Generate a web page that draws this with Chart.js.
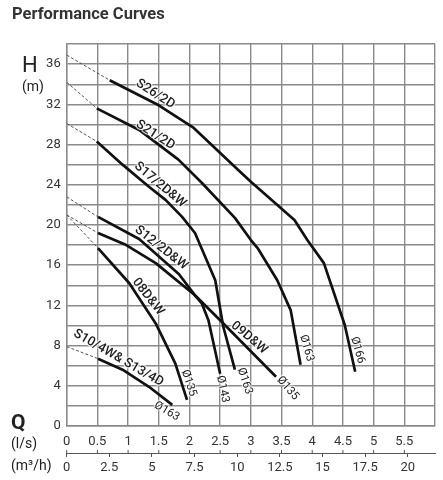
<!DOCTYPE html>
<html>
<head>
<meta charset="utf-8">
<script src="https://cdn.jsdelivr.net/npm/chart.js@4.4.1/dist/chart.umd.min.js"></script>
<style>
  html, body { margin: 0; padding: 0; background: #fff; }
  #wrap { position: relative; width: 443px; height: 480px; overflow: hidden; font-family: Roboto, "Noto Sans", sans-serif; color: #222; }
  #chart { position: absolute; left: 0; top: 0; }
  .cap { position: absolute; line-height: 1; white-space: nowrap; }
  .title { left: 12px; top: 6px; font-weight: bold; font-size: 16.5px; color: #333; }
  .curve-label {
    position: absolute; line-height: 1; white-space: nowrap; font-size: 13px; font-weight: 500; color: #222;
    transform-origin: 50% 50%;
    text-shadow: 0 0 2px #fff, 1px 0 1px #fff, -1px 0 1px #fff, 0 1px 1px #fff, 0 -1px 1px #fff;
  }
  .curve-label.small { font-size: 11.5px; font-weight: 400; }
</style>
</head>
<body>
<div id="wrap">
  <canvas id="chart" width="443" height="480"></canvas>
  <div class="cap title">Performance Curves</div>
  <div class="cap" style="left:22px;top:54px;font-size:22px;">H</div>
  <div class="cap" style="left:22px;top:79px;font-size:14px;">(m)</div>
  <div class="cap" style="left:11px;top:412px;font-size:21px;font-weight:bold;">Q</div>
  <div class="cap" style="left:11px;top:436px;font-size:14px;">(l/s)</div>
  <div class="cap" style="left:11px;top:458px;font-size:14px;">(m³/h)</div>
</div>
<script>
// Curve names (as printed on the chart)
const curveNames = ['S26/2D', 'S21/2D', 'S17/2D&W', 'S12/2D&W', '09D&W', '08D&W', 'S10/4W& S13/4D'];

// Shut-off head at Q = 0 (start of the dashed part)
const shutoffHead = [36.9, 34.2, 30.1, 22.8, 21.0, 21.0, 7.9];

// Solid curves: flow (l/s) and head (m)
const flowS26 = [0.70, 1.50, 2.07, 2.79, 3.00, 3.71, 3.92, 4.19, 4.53, 4.70];
const headS26 = [34.4, 31.9, 29.65, 25.5, 24.3, 20.5, 18.5, 16.2, 10.05, 5.4];

const flowS21 = [0.49, 1.18, 1.82, 2.20, 2.74, 3.00, 3.11, 3.43, 3.65, 3.81];
const headS21 = [31.6, 29.45, 26.5, 24.2, 20.7, 18.5, 17.7, 14.5, 11.5, 6.1];

const flowS17 = [0.49, 0.91, 1.34, 1.61, 1.88, 2.09, 2.42, 2.55, 2.74];
const headS17 = [28.3, 26.0, 23.8, 22.5, 20.8, 19.2, 14.5, 9.9, 5.6];

const flowS12 = [0.51, 1.18, 1.83, 2.09, 2.20, 2.31, 2.50];
const headS12 = [20.8, 18.6, 15.1, 13.0, 12.2, 10.5, 5.2];

const flow09D = [0.51, 0.97, 1.45, 2.09, 2.52, 3.41];
const head09D = [19.2, 18.0, 16.2, 13.0, 10.4, 4.9];

const flow08D = [0.51, 1.02, 1.45, 1.77, 1.96];
const head08D = [17.7, 14.2, 10.2, 6.2, 2.6];

const flowS10 = [0.51, 0.91, 1.34, 1.72];
const headS10 = [6.7, 5.6, 3.9, 2.1];

const curveFlows = [flowS26, flowS21, flowS17, flowS12, flow09D, flow08D, flowS10];
const curveHeads = [headS26, headS21, headS17, headS12, head09D, head08D, headS10];

// Axis ticks
const flowTicksLs = [0, 0.5, 1, 1.5, 2, 2.5, 3, 3.5, 4, 4.5, 5, 5.5];
const flowTicksM3h = [0, 2.5, 5, 7.5, 10, 12.5, 15, 17.5, 20];
const headTicks = [0, 4, 8, 12, 16, 20, 24, 28, 32, 36];

// Text labels along the curves (anchor in data units)
const labelTexts = ['S26/2D', 'S21/2D', 'S17/2D&W', 'S12/2D&W', '08D&W', '09D&W', 'S10/4W& S13/4D',
                    'Ø163', 'Ø135', 'Ø143', 'Ø163', 'Ø135', 'Ø163', 'Ø166'];
const labelFlow  = [1.45, 1.45, 1.53, 1.55, 1.34, 2.98, 0.86, 1.63, 1.99, 2.55, 2.91, 3.61, 3.91, 4.75];
const labelHead  = [33.1, 29.0, 24.1, 17.8, 12.9, 8.9, 6.9, 1.5, 4.3, 3.7, 4.5, 3.8, 7.8, 7.6];
const labelAngle = [33, 33, 40, 38, 52, 40, 30, 30, 72, 78, 72, 50, 75, 75];

const GRID = '#8a8a8a';
const LS_TO_M3H = 3.6;

// Build datasets
const datasets = [];
curveNames.forEach((name, i) => {
  const pts = curveFlows[i].map((q, k) => ({ x: q, y: curveHeads[i][k] }));
  datasets.push({
    label: name + ' (extrapolated)',
    data: [{ x: 0, y: shutoffHead[i] }, pts[0]],
    borderColor: '#555',
    borderWidth: 1,
    borderDash: [3, 2],
    pointRadius: 0,
    showLine: true,
    tension: 0
  });
  datasets.push({
    label: name,
    data: pts,
    borderColor: '#111',
    borderWidth: 2.7,
    pointRadius: 0,
    showLine: true,
    tension: 0,
    borderJoinStyle: 'round'
  });
});

// Place curve labels from data coordinates
const labelEls = labelTexts.map((t, i) => {
  const el = document.createElement('div');
  el.className = 'curve-label' + (t.startsWith('Ø') ? ' small' : '');
  el.textContent = t;
  document.getElementById('wrap').appendChild(el);
  return el;
});

const labelPlugin = {
  id: 'curveLabels',
  afterRender(chart) {
    const xs = chart.scales.x, ys = chart.scales.y;
    labelEls.forEach((el, i) => {
      const px = xs.getPixelForValue(labelFlow[i]);
      const py = ys.getPixelForValue(labelHead[i]);
      el.style.left = px + 'px';
      el.style.top = py + 'px';
      el.style.transform = 'translate(-50%, -50%) rotate(' + labelAngle[i] + 'deg)';
    });
  }
};

// Small upward ticks for l/s on the shared axis line
const lsTickPlugin = {
  id: 'lsTicks',
  afterDraw(chart) {
    const ctx = chart.ctx, xs = chart.scales.x, x2 = chart.scales.x2;
    const yLine = x2.top;
    ctx.save();
    ctx.strokeStyle = '#555';
    ctx.lineWidth = 1;
    flowTicksLs.forEach(v => {
      const px = xs.getPixelForValue(v);
      ctx.beginPath();
      ctx.moveTo(px, yLine);
      ctx.lineTo(px, yLine - 3);
      ctx.stroke();
    });
    ctx.restore();
  }
};

const tickFont = { family: 'Roboto, "Noto Sans", sans-serif', size: 13 };

new Chart(document.getElementById('chart').getContext('2d'), {
  type: 'scatter',
  data: { datasets },
  options: {
    responsive: false,
    animation: false,
    layout: { padding: { top: 44, right: 3.7, left: 0, bottom: 0 } },
    plugins: { legend: { display: false }, tooltip: { enabled: false } },
    scales: {
      x: {
        type: 'linear', position: 'bottom', weight: 0,
        min: 0, max: 6,
        afterBuildTicks: axis => { axis.ticks = flowTicksLs.concat([6]).map(v => ({ value: v })); },
        ticks: {
          autoSkip: false, maxRotation: 0, padding: 8, color: '#333', font: tickFont,
          callback: v => (flowTicksLs.includes(v) ? String(v) : '')
        },
        grid: { color: GRID, lineWidth: 1.4, drawTicks: false },
        border: { display: true, color: GRID, width: 1.4 },
        afterFit: axis => { axis.height = 27; }
      },
      x2: {
        type: 'linear', position: 'bottom', weight: 1,
        min: 0, max: 6 * LS_TO_M3H,
        afterBuildTicks: axis => { axis.ticks = flowTicksM3h.map(v => ({ value: v })); },
        ticks: { autoSkip: false, maxRotation: 0, padding: 3, color: '#333', font: tickFont },
        grid: { drawOnChartArea: false, drawTicks: true, tickLength: 4, color: '#555', lineWidth: 1 },
        border: { display: true, color: '#555', width: 1 },
        afterFit: axis => { axis.height = 27; }
      },
      y: {
        type: 'linear', min: 0, max: 38,
        afterBuildTicks: axis => {
          const t = [];
          for (let v = 0; v <= 38; v += 2) t.push({ value: v });
          axis.ticks = t;
        },
        ticks: {
          autoSkip: false, padding: 6, color: '#333', font: tickFont,
          callback: v => (headTicks.includes(v) ? String(v) : '')
        },
        grid: { color: GRID, lineWidth: 1.4, drawTicks: false },
        border: { display: true, color: GRID, width: 1.4 },
        afterFit: axis => { axis.width = 66.7; }
      }
    }
  },
  plugins: [labelPlugin, lsTickPlugin]
});
</script>
</body>
</html>
